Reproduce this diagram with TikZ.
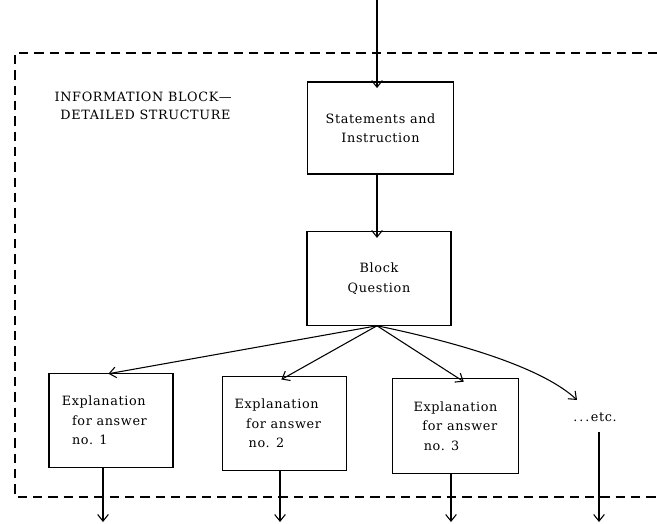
\documentclass[tikz,border=0pt]{standalone}
\usepackage{fontspec}
\setmainfont{DejaVu Serif}
\newfontfamily\spacedserif[LetterSpace=5]{DejaVu Serif}
\usepackage{tikz}
\usetikzlibrary{
    positioning,
    arrows.meta
}
\tikzset{
    flow_box/.style={
        rectangle, draw, line width=0.9pt,
        minimum width=93pt, minimum height=71pt,
        inner sep=2pt
    },
    flow_arrow/.style={
        -{Straight Barb[length=5pt,width=8pt]}, line width=0.8pt,
        shorten >=-5pt
    },
    frame_line/.style={
        dashed, line width=0.9pt, dash pattern=on 7pt off 4.5pt
    }
}

\begin{document}
\begin{tikzpicture}[
    x=0.75pt, y=-0.75pt,
    every node/.style={font=\spacedserif\fontsize{9.6}{14.6}\selectfont},
    answer_text/.style={align=left}
  ]
    \useasboundingbox (0,0) rectangle (657,524);

    % dashed frame of the information block (open to the right)
    \draw[frame_line] (657,53) -- (15,53) -- (15,497) -- (657,497);

    \node[align=left, anchor=west, font=\spacedserif\fontsize{9.6}{13.5}\selectfont] (block_title) at (50,106)
      {INFORMATION BLOCK\textemdash\\\hspace{0.45em}DETAILED STRUCTURE};

    \node[flow_box, minimum width=109pt, minimum height=69pt, align=center] (statements) at (380.5,128)
      {Statements and\\Instruction};
    \node[flow_box, minimum width=108pt, minimum height=70pt, align=center] (question) at (379,278.5)
      {Block\\Question};

    \node[flow_box, answer_text] (answer_1) at (111,420.5)
      {Explanation\\\hspace{0.8em}for answer\hspace{10pt}\mbox{}\\\hspace{0.8em}no. 1};
    \node[flow_box, answer_text, minimum height=70pt] (answer_2) at (284.5,423.5)
      {Explanation\\\hspace{0.9em}for answer\hspace{10pt}\mbox{}\\\hspace{1.1em}no. 2};
    \node[flow_box, answer_text, minimum width=95pt] (answer_3) at (455.5,426)
      {Explanation\\\hspace{0.7em}for answer\\\hspace{0.8em}no. 3};
    \node[inner sep=1pt] (etc_label) at (595,417)
      {.\hspace{1.5pt}.\hspace{1.5pt}.\hspace{1pt}etc.};

    \coordinate (entry) at (377,0);
    \coordinate (etc_in) at (577,400);
    \coordinate (etc_top) at (599,432);
    \coordinate (exit_1) at (103,522);
    \coordinate (exit_2) at (280,522);
    \coordinate (exit_3) at (451,522);
    \coordinate (exit_4) at (599,522);

    \draw[flow_arrow] (entry) -- (statements.north -| entry);
    \draw[flow_arrow] (statements.south -| entry) -- (question.north -| entry);

    \draw[flow_arrow] (question.south -| entry) -- ([xshift=3pt]answer_1.north);
    \draw[flow_arrow] (question.south -| entry) -- ([xshift=2pt]answer_2.north);
    \draw[flow_arrow] (question.south -| entry) -- ([xshift=2pt]answer_3.north);
    \draw[-{Straight Barb[length=5pt,width=8pt]}, line width=0.8pt] (question.south -| entry)
      .. controls (470,345) and (545,370) .. (etc_in);

    \draw[flow_arrow, shorten >=0pt] (answer_1.south -| exit_1) -- (exit_1);
    \draw[flow_arrow, shorten >=0pt] (answer_2.south -| exit_2) -- (exit_2);
    \draw[flow_arrow, shorten >=0pt] (answer_3.south -| exit_3) -- (exit_3);
    \draw[flow_arrow, shorten >=0pt] (etc_top) -- (exit_4);

\end{tikzpicture}
\end{document}
